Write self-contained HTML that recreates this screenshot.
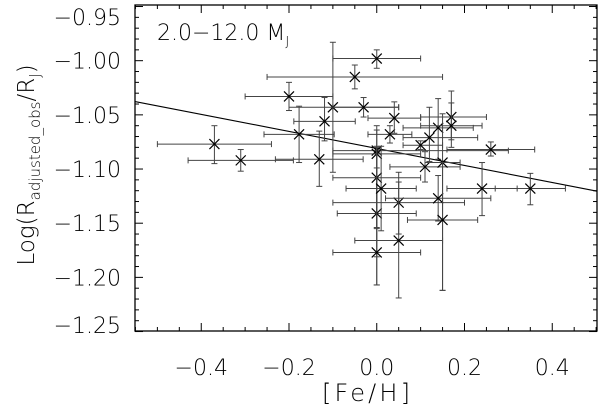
<!DOCTYPE html>
<html><head><meta charset="utf-8"><style>
body{margin:0;background:#fff;}
svg{display:block;font-family:"DejaVu Sans","Liberation Sans",sans-serif;}
</style></head><body>
<svg id="chart" width="600" height="410" viewBox="0 0 600 410" xmlns="http://www.w3.org/2000/svg">
<rect x="0" y="0" width="600" height="410" fill="#fff"/>
<g id="grid"></g>
<g id="marks"></g>
<text x="157" y="40" font-size="22" font-weight="300" fill="#000">2.0−12.0 M<tspan font-size="13" dy="6">J</tspan></text>
<text x="366" y="401" font-size="24" font-weight="300" text-anchor="middle" textLength="88">[Fe/H]</text>
<text transform="translate(34,165) rotate(-90)" font-size="23" font-weight="300" text-anchor="middle">Log(R<tspan font-size="15" dy="6">adjusted_obs</tspan><tspan dy="-6">/R</tspan><tspan font-size="15" dy="6">J</tspan><tspan dy="-6">)</tspan></text>
</svg>
<script>
const feh    =[-0.37,-0.31,-0.20,-0.177,-0.131,-0.119,-0.10,-0.05,-0.03,0.0,0.0,0.0,0.0,0.0,0.0,0.01,0.03,0.04,0.05,0.05,0.10,0.11,0.12,0.14,0.14,0.15,0.15,0.17,0.17,0.24,0.26,0.35];
const xErrLo =[0.13,0.12,0.10,0.08,0.10,0.07,0.10,0.20,0.07,0.10,0.10,0.10,0.10,0.09,0.10,0.08,0.05,0.06,0.15,0.10,0.04,0.08,0.06,0.08,0.12,0.04,0.08,0.07,0.07,0.08,0.10,0.08];
const xErrHi =[0.13,0.12,0.10,0.08,0.10,0.07,0.15,0.20,0.08,0.10,0.30,0.10,0.10,0.09,0.10,0.08,0.05,0.06,0.15,0.10,0.05,0.08,0.11,0.08,0.12,0.04,0.08,0.08,0.07,0.08,0.10,0.08];
const logR   =[-1.077,-1.092,-1.033,-1.068,-1.091,-1.056,-1.043,-1.015,-1.043,-0.998,-1.083,-1.086,-1.108,-1.141,-1.177,-1.118,-1.068,-1.053,-1.131,-1.166,-1.078,-1.098,-1.071,-1.062,-1.127,-1.094,-1.147,-1.052,-1.060,-1.118,-1.082,-1.118];
const yErrUp =[0.017,0.010,0.013,0.026,0.026,0.022,0.060,0.011,0.009,0.008,0.023,0.022,0.028,0.042,0.098,0.039,0.008,0.015,0.028,0.054,0.004,0.014,0.028,0.027,0.021,0.045,0.053,0.024,0.021,0.024,0.007,0.014];
const yErrDn =[0.018,0.010,0.013,0.026,0.025,0.018,0.060,0.011,0.009,0.009,0.072,0.095,0.099,0.013,0.030,0.039,0.008,0.014,0.029,0.053,0.004,0.014,0.022,0.029,0.021,0.118,0.065,0.021,0.020,0.025,0.006,0.015];
const fitIntercept=-1.081, fitSlope=-0.0786;
const xTicks=[-0.4,-0.2,0.0,0.2,0.4];
const xTickLabels=["−0.4","−0.2","0.0","0.2","0.4"];
const yTicks=[-0.95,-1.00,-1.05,-1.10,-1.15,-1.20,-1.25];
const yTickLabels=["−0.95","−1.00","−1.05","−1.10","−1.15","−1.20","−1.25"];

const L=135,R=597,T=5,B=331, xMin=-0.551,xMax=0.502,yTop=-0.9486,yBot=-1.2495;
const sx=v=>L+(v-xMin)/(xMax-xMin)*(R-L);
const sy=v=>T+(yTop-v)/(yTop-yBot)*(B-T);
const NS="http://www.w3.org/2000/svg";
function mk(tag,attrs,parent){const e=document.createElementNS(NS,tag);for(const k in attrs)e.setAttribute(k,attrs[k]);parent.appendChild(e);return e;}
const ax=document.getElementById('grid'), mg=document.getElementById('marks');
const frame=mk('rect',{x:L,y:T,width:R-L,height:B-T,fill:'none',stroke:'#000','stroke-width':1.3},ax);


for(let i=-11;i<=10;i++){const v=i*0.05;if(v<xMin||v>xMax)continue;const x=sx(v);const major=Math.abs(Math.round(v*100)%20)<1e-6;const len=major?8:4;
 const t1=mk('line',{x1:x,x2:x,y1:B,y2:B-len,stroke:'#000','stroke-width':1},ax);
 const t2=mk('line',{x1:x,x2:x,y1:T,y2:T+len,stroke:'#000','stroke-width':1},ax);}
for(let i=95;i<=125;i++){const v=-i/100;const y=sy(v);const major=i%5===0;const len=major?8:4;
 const t1=mk('line',{x1:L,x2:L+len,y1:y,y2:y,stroke:'#000','stroke-width':1},ax);
 const t2=mk('line',{x1:R,x2:R-len,y1:y,y2:y,stroke:'#000','stroke-width':1},ax);}
xTicks.forEach((v,i)=>{const t=mk('text',{x:sx(v),y:375,'font-size':22,'font-weight':300,'text-anchor':'middle'},ax);t.textContent=xTickLabels[i];
 });
yTicks.forEach((v,i)=>{let y=sy(v)+8;y=Math.max(25,Math.min(y,333));const t=mk('text',{x:121,y:y,'font-size':22,'font-weight':300,'text-anchor':'end'},ax);t.textContent=yTickLabels[i];
 });
const fl=mk('line',{x1:sx(xMin),y1:sy(fitIntercept+fitSlope*xMin),x2:sx(xMax),y2:sy(fitIntercept+fitSlope*xMax),stroke:'#000','stroke-width':1.1},mg);


const ec='#444';
feh.forEach((f,i)=>{const g=mk('g',{},mg);
 
 
 const x=sx(f),y=sy(logR[i]),x1=sx(f-xErrLo[i]),x2=sx(f+xErrHi[i]),y1=sy(logR[i]+yErrUp[i]),y2=sy(logR[i]-yErrDn[i]);
 mk('line',{x1:x1,x2:x2,y1:y,y2:y,stroke:ec,'stroke-width':1},g);
 mk('line',{x1:x1,x2:x1,y1:y-3,y2:y+3,stroke:ec,'stroke-width':1},g);
 mk('line',{x1:x2,x2:x2,y1:y-3,y2:y+3,stroke:ec,'stroke-width':1},g);
 mk('line',{x1:x,x2:x,y1:y1,y2:y2,stroke:ec,'stroke-width':1},g);
 mk('line',{x1:x-3,x2:x+3,y1:y1,y2:y1,stroke:ec,'stroke-width':1},g);
 mk('line',{x1:x-3,x2:x+3,y1:y2,y2:y2,stroke:ec,'stroke-width':1},g);
 mk('path',{d:`M${x-5},${y-5}L${x+5},${y+5}M${x-5},${y+5}L${x+5},${y-5}`,stroke:'#000','stroke-width':1.2,fill:'none'},g);
});
</script>
</body></html>
